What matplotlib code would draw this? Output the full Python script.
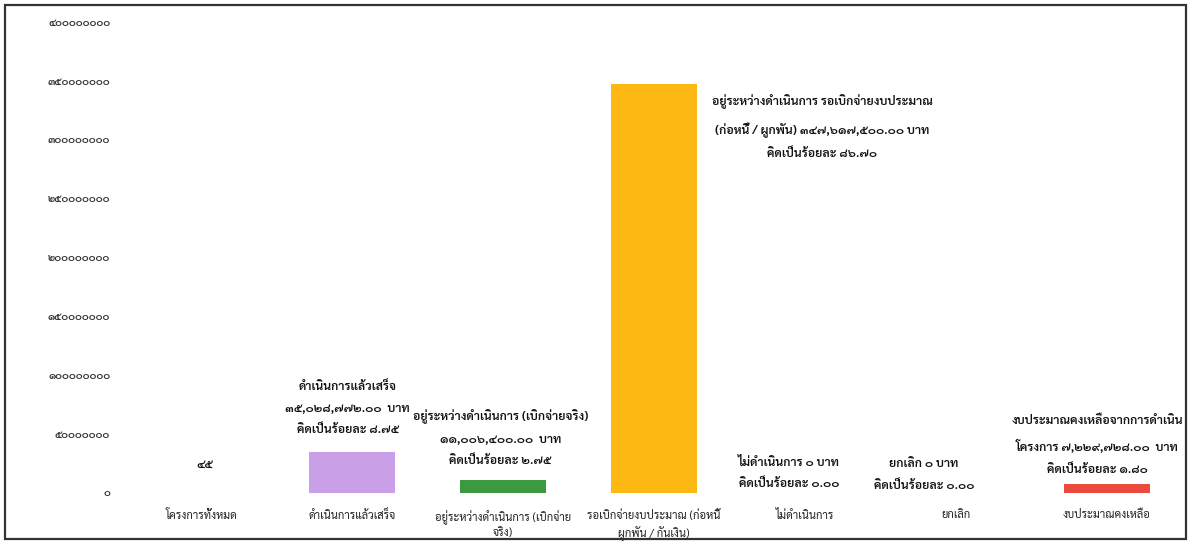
import matplotlib
matplotlib.use('Agg')
import matplotlib.pyplot as plt
from matplotlib import font_manager
from matplotlib.patches import Rectangle

# ---------------- data ----------------
categories = [
    "โครงการทั้งหมด",
    "ดำเนินการแล้วเสร็จ",
    "อยู่ระหว่างดำเนินการ (เบิกจ่าย\nจริง)",
    "รอเบิกจ่ายงบประมาณ (ก่อหนี้\nผูกพัน / กันเงิน)",
    "ไม่ดำเนินการ",
    "ยกเลิก",
    "งบประมาณคงเหลือ",
]
values = [45, 35028772.00, 11006400.00, 347617500.00, 0, 0, 7229728.00]
percents = [None, 8.75, 2.75, 86.70, 0.00, 0.00, 1.80]
label_heads = [
    "",
    "ดำเนินการแล้วเสร็จ",
    "อยู่ระหว่างดำเนินการ (เบิกจ่ายจริง)",
    "อยู่ระหว่างดำเนินการ รอเบิกจ่ายงบประมาณ\n(ก่อหนี้ / ผูกพัน)",
    "ไม่ดำเนินการ",
    "ยกเลิก",
    "งบประมาณคงเหลือจากการดำเนิน\nโครงการ",
]
colors = ["#8064a2", "#c9a0e8", "#3b9a40", "#fdb813", "#999999", "#999999", "#ec4a3c"]
yticks = [0, 50000000, 100000000, 150000000, 200000000, 250000000, 300000000, 350000000, 400000000]

# ---------------- fonts ----------------
avail = set(f.name for f in font_manager.fontManager.ttflist)
thai = None
for cand in ["Sarabun", "Noto Sans Thai", "Anuphan", "IBM Plex Sans Thai", "Bai Jamjuree", "Athiti"]:
    if cand in avail:
        thai = cand
        break
fams = ([thai] if thai else []) + ["DejaVu Sans"]
plt.rcParams['font.family'] = fams

THAI_DIGITS = str.maketrans("0123456789", "๐๑๒๓๔๕๖๗๘๙")
def th(s):
    return str(s).translate(THAI_DIGITS)

# ---------------- figure ----------------
fig = plt.figure(figsize=(11.92, 5.46), dpi=100)
ax = fig.add_axes([0.1053, 0.0971, 0.8867, 0.8626])

x = list(range(len(categories)))
ax.bar(x, values, width=0.57, color=colors, linewidth=0)
ax.set_xlim(-0.5, len(categories) - 0.5)
ax.set_ylim(0, 400000000)
ax.set_yticks(yticks)
ax.set_yticklabels([th(v) for v in yticks], fontsize=7.5, color="#333333", fontweight="semibold")
ax.set_xticks(x)
ax.set_xticklabels(categories, fontsize=8.0, color="#222222", linespacing=1.35)
ax.tick_params(axis='y', length=0, pad=11)
ax.tick_params(axis='x', length=0, pad=12.5)
for s in ax.spines.values():
    s.set_visible(False)

fs = 8.8
tkw = dict(fontsize=fs, color="#111111", ha="center", va="center", fontweight="semibold",
           linespacing=2.1, textcoords="offset points")

def money(v):
    return th(f"{v:,.2f}")

def pct(p):
    return th(f"{p:.2f}")

# total projects
ax.annotate(th(f"{int(values[0])}"), xy=(0, values[0]), xytext=(3, 20), **tkw)
# completed
ax.annotate(f"{label_heads[1]}\n{money(values[1])}  บาท\nคิดเป็นร้อยละ {pct(percents[1])}",
            xy=(1, values[1]), xytext=(-3, 31), **tkw)
# in progress (actual)
ax.annotate(f"{label_heads[2]}\n{money(values[2])}  บาท\nคิดเป็นร้อยละ {pct(percents[2])}",
            xy=(2, values[2]), xytext=(-2, 30), **tkw)
# awaiting disbursement
ax.annotate(f"{label_heads[3]} {money(values[3])} บาท\nคิดเป็นร้อยละ {pct(percents[3])}",
            xy=(3, values[3]), xytext=(121, -31), **tkw)
# not done
ax.annotate(f"{label_heads[4]} {th(int(values[4]))} บาท\nคิดเป็นร้อยละ {pct(percents[4])}",
            xy=(4, values[4]), xytext=(-11.5, 14), **tkw)
# cancelled
ax.annotate(f"{label_heads[5]} {th(int(values[5]))} บาท\nคิดเป็นร้อยละ {pct(percents[5])}",
            xy=(5, values[5]), xytext=(-23, 13), **tkw)
# remaining
ax.annotate(f"{label_heads[6]} {money(values[6])}  บาท\nคิดเป็นร้อยละ {pct(percents[6])}",
            xy=(6, values[6]), xytext=(-7, 28), **tkw)

# outer frame
fig.patches.append(Rectangle((0.004, 0.012), 0.991, 0.978, transform=fig.transFigure,
                             fill=False, edgecolor="#333333", linewidth=1.6))

fig.savefig("out.png", dpi=100)
